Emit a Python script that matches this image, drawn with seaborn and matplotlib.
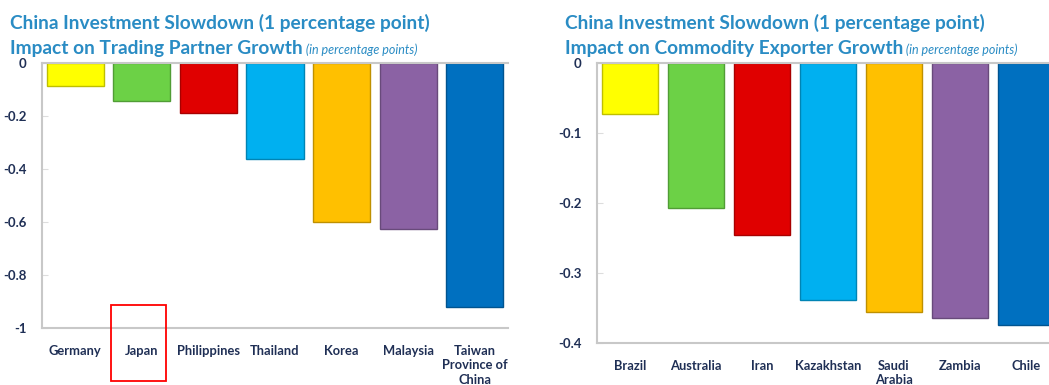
import matplotlib
matplotlib.use("Agg")
import matplotlib.pyplot as plt
import seaborn as sns
import pandas as pd
import numpy as np
from matplotlib.colors import to_rgb
from matplotlib.patches import Rectangle

# ---- data ----
partners = ["Germany", "Japan", "Philippines", "Thailand", "Korea", "Malaysia",
            "Taiwan\nProvince of\nChina"]
partner_vals = [-0.09, -0.145, -0.19, -0.365, -0.60, -0.627, -0.92]

exporters = ["Brazil", "Australia", "Iran", "Kazakhstan", "Saudi\nArabia", "Zambia", "Chile"]
exporter_vals = [-0.074, -0.207, -0.246, -0.338, -0.356, -0.364, -0.375]

colors = ["#FFFF00", "#6CD146", "#E00000", "#00B0F0", "#FFC000", "#8B62A4", "#0070C0"]

left_ticks = [0, -0.2, -0.4, -0.6, -0.8, -1]
left_ticklabels = ["0", "-0.2", "-0.4", "-0.6", "-0.8", "-1"]
right_ticks = [0, -0.1, -0.2, -0.3, -0.4]
right_ticklabels = ["0", "-0.1", "-0.2", "-0.3", "-0.4"]

title1 = "China Investment Slowdown (1 percentage point)"
title2_left = "Impact on Trading Partner Growth"
title2_right = "Impact on Commodity Exporter Growth"
subtitle = " (in percentage points)"

sns.set_theme(style="white")
plt.rcParams['font.family'] = ['Lato', 'DejaVu Sans']

W, H = 1049, 385
fig = plt.figure(figsize=(W / 100, H / 100), dpi=100)

title_color = "#2A8CC4"
tick_color = "#1F2F55"
spine_color = "#C8C8C8"


def darker(c, f=0.75):
    r, g, b = to_rgb(c)
    return (r * f, g * f, b * f)


def panel(rect, cats, vals, ticks, ticklabels, ymin):
    ax = fig.add_axes(rect)
    df = pd.DataFrame({"cat": cats, "val": vals})
    sns.barplot(data=df, x="cat", y="val", hue="cat", palette=colors,
                legend=False, width=0.86, ax=ax, saturation=1)
    for p, c in zip(ax.patches, colors):
        p.set_edgecolor(darker(c))
        p.set_linewidth(1.0)
    ax.set_xlim(-0.5, 6.5)
    ax.set_ylim(ymin, 0)
    ax.set_yticks(ticks)
    ax.set_yticklabels(ticklabels)
    ax.set_xlabel("")
    ax.set_ylabel("")
    for s in ["left", "bottom", "top"]:
        ax.spines[s].set_visible(True)
        ax.spines[s].set_color(spine_color)
        ax.spines[s].set_linewidth(1.5)
    ax.spines["right"].set_visible(False)
    ax.tick_params(axis="y", direction="in", length=4, width=0.8, color="#DDDDDD",
                   labelsize=9.5, labelcolor=tick_color, pad=11, left=True)
    ax.tick_params(axis="x", length=0, labelsize=9.3, labelcolor=tick_color, pad=12)
    for lbl in ax.get_yticklabels() + ax.get_xticklabels():
        lbl.set_fontweight("bold")
    for lbl in ax.get_xticklabels():
        lbl.set_linespacing(1.25)
        lbl.set_verticalalignment("top")
    return ax


y0 = 62.5
axL = panel([42 / W, (H - 328) / H, 466 / W, (328 - y0) / H],
            partners, partner_vals, left_ticks, left_ticklabels, -1)
axR = panel([597 / W, (H - 343) / H, 462 / W, (343 - y0) / H],
            exporters, exporter_vals, right_ticks, right_ticklabels, -0.4)


def titles(x, line2):
    fig.text(x / W, 1 - 29 / H, title1, color=title_color, fontsize=13.8,
             fontweight="bold", ha="left", va="baseline")
    t = fig.text(x / W, 1 - 54 / H, line2, color=title_color, fontsize=13.8,
                 fontweight="bold", ha="left", va="baseline")
    fig.canvas.draw()
    bb = t.get_window_extent()
    fig.text(bb.x1 / W, 1 - 54 / H, subtitle, color=title_color, fontsize=9,
             fontstyle="italic", ha="left", va="baseline")


titles(10, title2_left)
titles(565, title2_right)

# red highlight box around "Japan"
fig.patches.append(Rectangle((111 / W, (H - 381) / H), 55 / W, 76 / H,
                             transform=fig.transFigure, fill=False,
                             edgecolor="#FF0000", linewidth=1.3))

fig.savefig("out.png", dpi=100)
